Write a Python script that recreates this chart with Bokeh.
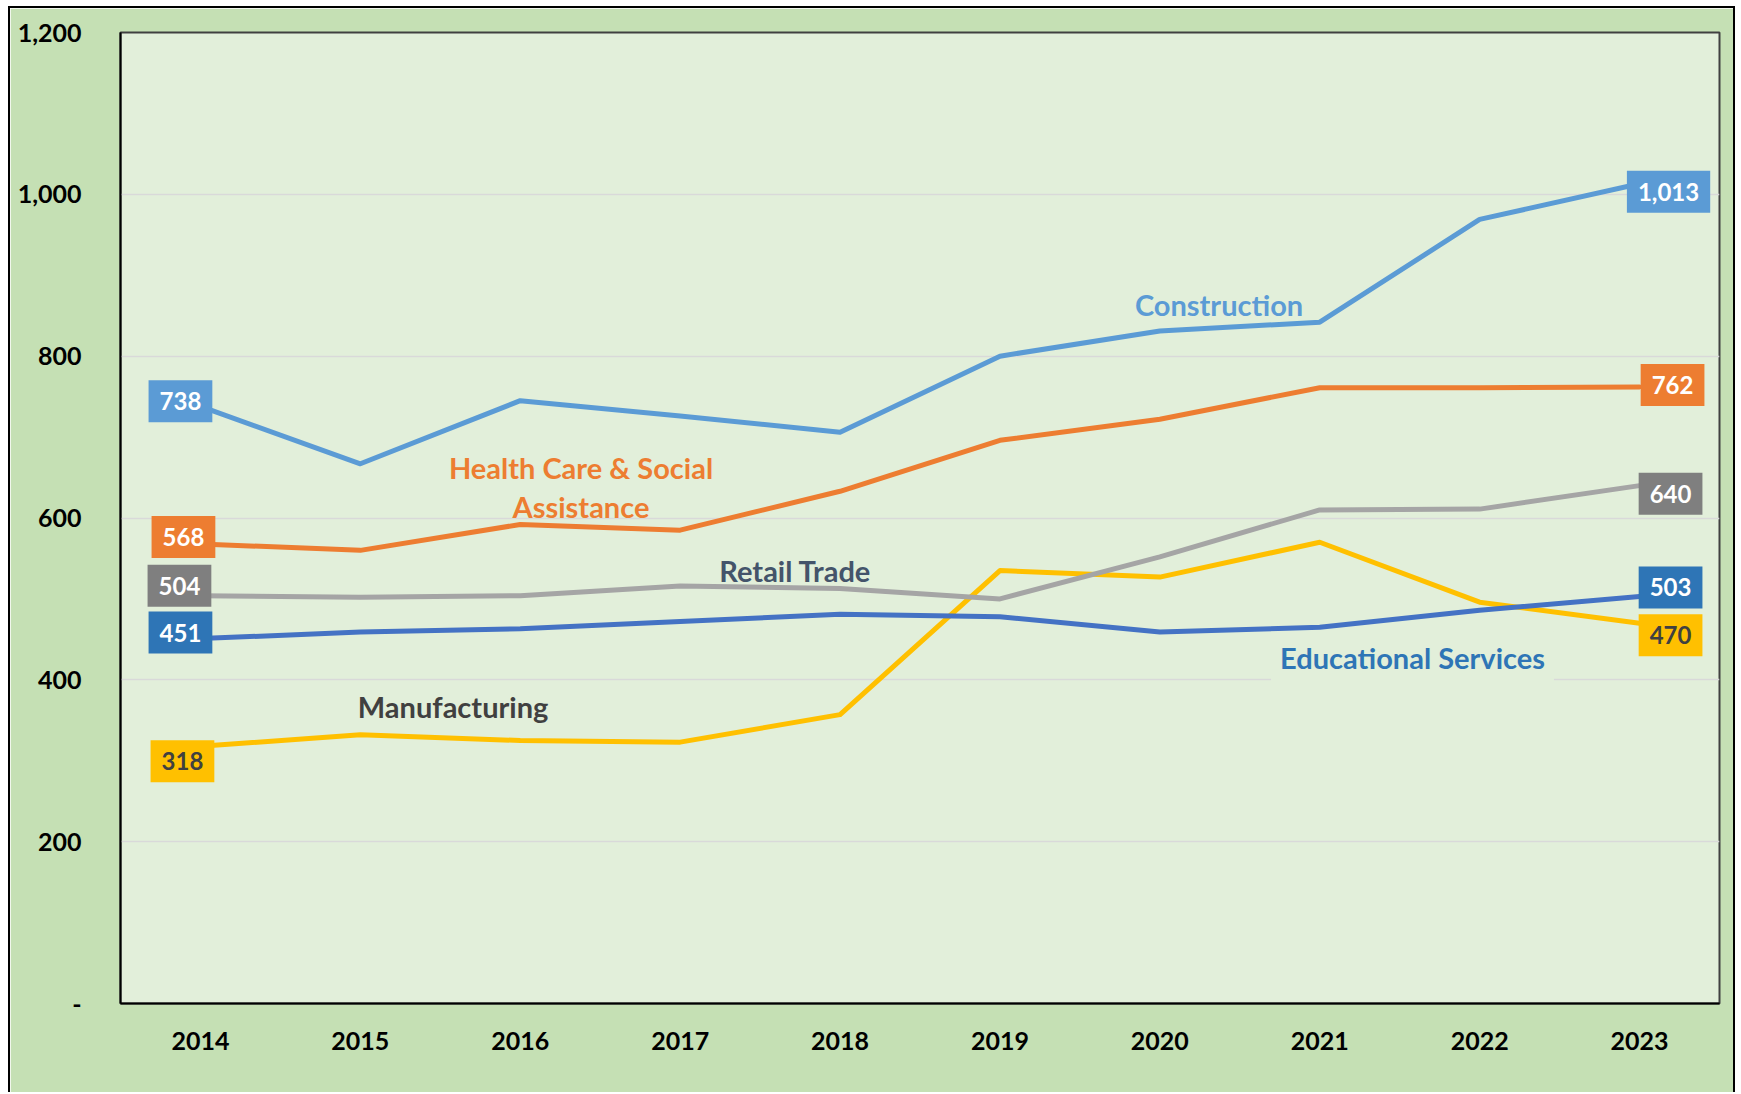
from bokeh.plotting import figure
from bokeh.models import FixedTicker, Range1d, ColumnDataSource
from bokeh.core.properties import value
from bokeh.embed import file_html
from bokeh.resources import INLINE

# ---------------- data ----------------
years = [2014, 2015, 2016, 2017, 2018, 2019, 2020, 2021, 2022, 2023]
construction = [738, 667, 745, 726, 706, 800, 831, 842, 969, 1013]
health_care = [568, 560, 592, 585, 633, 696, 722, 761, 761, 762]
retail_trade = [504, 502, 504, 516, 513, 500, 552, 610, 611, 640]
educational = [451, 459, 463, 472, 481, 478, 459, 465, 486, 503]
manufacturing = [318, 332, 325, 323, 357, 535, 527, 570, 496, 470]

y_ticks = [0, 200, 400, 600, 800, 1000, 1200]
y_tick_labels = ["-", "200", "400", "600", "800", "1,000", "1,200"]
x_tick_labels = [str(y) for y in years]

series_names = ["Construction", "Health Care & Social Assistance", "Retail Trade",
                "Educational Services", "Manufacturing"]

# ---------------- styles ----------------
FONT = "Lato"
line_colors = ["#5B9BD5", "#ED7D31", "#A5A5A5", "#4472C4", "#FFC000"]
box_colors = ["#5B9BD5", "#ED7D31", "#7F7F7F", "#2E75B6", "#FFC000"]
box_text_colors = ["#FFFFFF", "#FFFFFF", "#FFFFFF", "#FFFFFF", "#404040"]
name_colors = ["#5B9BD5", "#ED7D31", "#44546A", "#2E75B6", "#404040"]
# screen offsets of first/last value boxes relative to their points (px)
first_offsets = [(-20, -5), (-17, -7), (-21, -10), (-20, -6), (-18, 15)]
last_offsets = [(29, 8), (33, -2), (31, 8), (31, -9), (31, 12)]
# series name annotation anchors (data coordinates)
name_anchor = {
    "Construction": [(2020.37, 864)],
    "Health Care & Social Assistance": [(2016.38, 662), (2016.38, 614)],
    "Retail Trade": [(2017.72, 535)],
    "Educational Services": [(2021.58, 428)],
    "Manufacturing": [(2015.58, 367)],
}
name_lines = {
    "Health Care & Social Assistance": ["Health Care & Social", "Assistance"],
}

all_series = [construction, health_care, retail_trade, educational, manufacturing]

p = figure(width=1727, height=1086,
           x_range=Range1d(2013.5, 2023.5), y_range=Range1d(0, 1200),
           output_backend="svg", toolbar_location=None,
           min_border_left=110, min_border_right=18,
           min_border_top=24, min_border_bottom=91)
p.styles = {"margin-left": "8px", "margin-top": "6px",
            "border-left": "2px solid black", "border-top": "2px solid black",
            "border-right": "2px solid black"}
p.background_fill_color = "#E2EFDA"
p.border_fill_color = "#C5E0B4"
p.outline_line_color = "#404040"
p.outline_line_width = 2

p.xgrid.visible = False
p.ygrid.grid_line_color = "#D9D9D9"
p.ygrid.grid_line_width = 1.5

p.yaxis.ticker = FixedTicker(ticks=y_ticks)
p.yaxis.major_label_overrides = {t: l for t, l in zip(y_ticks, y_tick_labels)}
p.xaxis.ticker = FixedTicker(ticks=years)
p.xaxis.major_label_overrides = {t: l for t, l in zip(years, x_tick_labels)}
for ax in p.axis:
    ax.major_tick_line_color = None
    ax.minor_tick_line_color = None
    ax.axis_line_color = "#000000"
    ax.axis_line_width = 2
    ax.major_label_text_font = FONT
    ax.major_label_text_font_style = "bold"
    ax.major_label_text_font_size = "25px"
    ax.major_label_text_color = "#000000"
p.yaxis.major_label_standoff = 33
p.xaxis.major_label_standoff = 22

# draw order: manufacturing, retail, health, construction, educational
order = [4, 2, 1, 0, 3]
for i in order:
    p.line(years, all_series[i], line_color=line_colors[i], line_width=5,
           line_join="round", line_cap="round")

# value boxes at first and last year
vx, vy, vt, vdx, vdy, vbg, vtc = [], [], [], [], [], [], []
for i, s in enumerate(all_series):
    for idx, off in ((0, first_offsets[i]), (-1, last_offsets[i])):
        vx.append(years[idx])
        vy.append(s[idx])
        vt.append(f"{s[idx]:,}")
        vdx.append(off[0])
        vdy.append(off[1])
        vbg.append(box_colors[i])
        vtc.append(box_text_colors[i])
src = ColumnDataSource(dict(x=vx, y=vy, text=vt, dx=vdx, dy=vdy, bg=vbg, tc=vtc))
p.text(x="x", y="y", text="text", source=src, x_offset="dx", y_offset="dy",
       text_align="center", text_baseline="middle",
       text_font=value(FONT), text_font_style="bold", text_font_size="24px",
       text_color="tc", background_fill_color="bg", padding=(11, 12))

# series name labels
for i, name in enumerate(series_names):
    lines = name_lines.get(name, [name])
    for (ax_, ay_), txt in zip(name_anchor[name], lines):
        kw = {}
        if name == "Educational Services":
            kw = dict(background_fill_color="#E2EFDA", padding=(9, 8))
        p.text(x=[ax_], y=[ay_], text=[txt], text_align="center", text_baseline="middle",
               text_font=value(FONT), text_font_style="bold", text_font_size="29px",
               text_color=name_colors[i], **kw)

open("out.html", "w").write(file_html(p, INLINE))
